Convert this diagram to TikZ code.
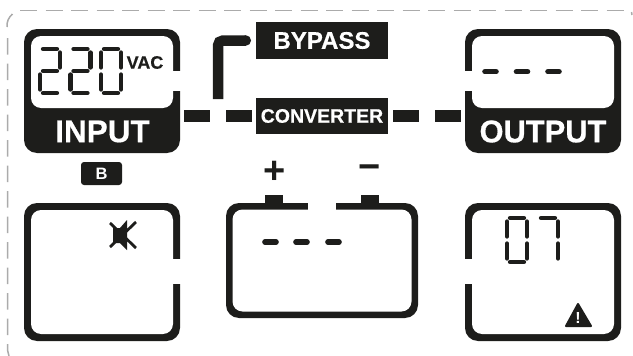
\documentclass[tikz,border=0pt]{standalone}
\usepackage{fontspec}
\setmainfont{Liberation Sans}
\newfontfamily\heavyfont[BoldFeatures={FakeBold=0.5}]{Liberation Sans}

\definecolor{lcdink}{HTML}{1D1D1B}
\definecolor{rimgray}{HTML}{ABABAB}

\tikzset{
  panel/.style={fill=lcdink, rounded corners=13pt, minimum width=156pt, inner sep=0pt, outer sep=0pt},
  window/.style={fill=white, rounded corners=10pt, minimum width=142pt, inner sep=0pt, outer sep=0pt},
  tag/.style={fill=lcdink, text=white, minimum width=132pt, inner sep=0pt, outer sep=0pt},
  biglabel/.style={text=white, inner sep=0pt, font=\fontsize{31.5}{31.5}\selectfont\heavyfont\bfseries},
  link/.style={draw=lcdink, line width=12pt, dash pattern=on 25.5pt off 16.5pt},
  seg/.style={draw=lcdink, line width=4.3pt, line cap=round},
  lcddash/.style={draw=lcdink, line width=5.6pt, line cap=round},
  rim/.style={draw=rimgray, line width=1.5pt}
}

% one LCD digit: left, top, segments
\def\sega{\draw[seg] (5,2) -- (19,2);}
\def\segb{\draw[seg] (22,5.5) -- (22,20.5);}
\def\segc{\draw[seg] (22,27.5) -- (22,42.5);}
\def\segd{\draw[seg] (5,46) -- (19,46);}
\def\sege{\draw[seg] (2,27.5) -- (2,42.5);}
\def\segf{\draw[seg] (2,5.5) -- (2,20.5);}
\def\segg{\draw[seg] (5,24) -- (19,24);}
\newcommand{\lcddigit}[3]{
  \begin{scope}[shift={(#1,#2)}]
    \foreach \s in {#3} {\csname seg\s\endcsname}
  \end{scope}
}

\begin{document}
\begin{tikzpicture}[x=1pt,y=-1pt]
\useasboundingbox (0,0) rectangle (633,356);

% outer rim
\draw[rim, dash pattern=on 17pt off 8.5pt] (20,10.5) -- (626,10.5);
\draw[rim, dash pattern=on 16.5pt off 9pt] (7.5,38) -- (7.5,350) -- (9,356);
\draw[rim] (7,27) to[bend left=25] (12.5,14);
\draw[rim] (631.5,12) -- (632,15);

% top row
\node[panel, minimum height=124pt] (input) at (102,91) {};
\node[window, minimum height=72pt] (inputlcd) at (102,72) {};
\fill[white] (172.9,70.5) rectangle (181,91);
\node[biglabel] (inputlabel) at (102.5,131.5) {INPUT};
\node[font=\fontsize{18}{18}\selectfont\heavyfont\bfseries, text=lcdink, inner sep=0pt] (vac) at (145,62.5) {VAC};
\lcddigit{38}{47}{a,b,g,e,d}
\lcddigit{68.5}{47}{a,b,g,e,d}
\lcddigit{99}{47}{a,b,c,d,e,f}

\node[panel, minimum height=124pt] (output) at (543,91) {};
\node[window, minimum height=72pt] (outputlcd) at (543,72) {};
\fill[white] (464,70.5) rectangle (472.1,91);
\node[biglabel] (outputlabel) at (543,131.5) {\scalebox{.98}[1]{OUTPUT}};
\foreach \x in {485,516.5,548} \draw[lcddash] (\x,71.6) -- (\x+11,71.6);

\node[tag, minimum height=37pt, font=\fontsize{24}{24}\selectfont\heavyfont\bfseries] (bypass) at (322,40.5) {BYPASS};
\node[tag, minimum height=36pt, font=\fontsize{19.5}{19.5}\selectfont\heavyfont\bfseries] (converter) at (322,116) {CONVERTER};

\coordinate (bypassdrop) at (218,99);
\coordinate (bypassend) at ([xshift=-10.2pt]bypass.west);
\path[link] ([xshift=4pt]input.east |- converter.west) -- (converter.west);
\path[link] ([xshift=5pt]converter.east) -- (output.west |- converter.east);
\draw[lcdink, line width=10.5pt, rounded corners=5pt] (bypassdrop) |- (bypassend);
\fill[lcdink] (bypassend) circle (5.25pt);

\node[fill=lcdink, text=white, rounded corners=3pt, minimum width=41pt, minimum height=23pt, inner sep=0pt, font=\fontsize{16.5}{16.5}\selectfont\bfseries] (backup) at (101.5,173.5) {B};

% bottom row
\node[panel, minimum height=138pt] (mute) at (102,272) {};
\node[window, minimum height=124pt] (mutelcd) at (102,272) {};
\fill[white] (172.9,259) rectangle (181,284);
\fill[lcdink] (113,228) -- (120,228) -- (127,220) -- (127,250) -- (120,243) -- (113,243) -- cycle;
\draw[lcdink, line width=2.8pt] (110,223) -- (136,248) (136,222) -- (110,247);

\node[fill=lcdink, minimum width=18pt, minimum height=12pt, inner sep=0pt] (posterm) at (274,201) {};
\node[fill=lcdink, minimum width=18pt, minimum height=12pt, inner sep=0pt] (negterm) at (370,201) {};
\node[panel, minimum width=192pt, minimum height=115pt] (battery) at (322,260.5) {};
\node[window, minimum width=179pt, minimum height=102pt] (batterylcd) at (322,260.5) {};
\fill[white] (308,202) rectangle (336,210.5);
\node[text=lcdink, inner sep=0pt, font=\fontsize{38}{38}\selectfont\bfseries] (plus) at (274.5,172) {+};
\node[text=lcdink, inner sep=0pt, font=\fontsize{38}{38}\selectfont\bfseries] (minus) at (370,172) {−};
\foreach \x in {265,296,328} \draw[lcddash] (\x,242) -- (\x+11,242);

\node[panel, minimum height=138pt] (alarm) at (543,272) {};
\node[window, minimum height=124pt] (alarmlcd) at (543,272) {};
\fill[white] (464,259) rectangle (472.1,284);
\lcddigit{505}{216}{a,b,c,d,e,f}
\lcddigit{536}{216}{a,b,c}
\draw[lcdink, fill=lcdink, line width=2pt, line join=round] (578,304) -- (591,326) -- (566,326) -- cycle;
\node[text=white, inner sep=0pt, font=\fontsize{16}{16}\selectfont\bfseries] (warning) at (578,317.5) {!};

\end{tikzpicture}
\end{document}
